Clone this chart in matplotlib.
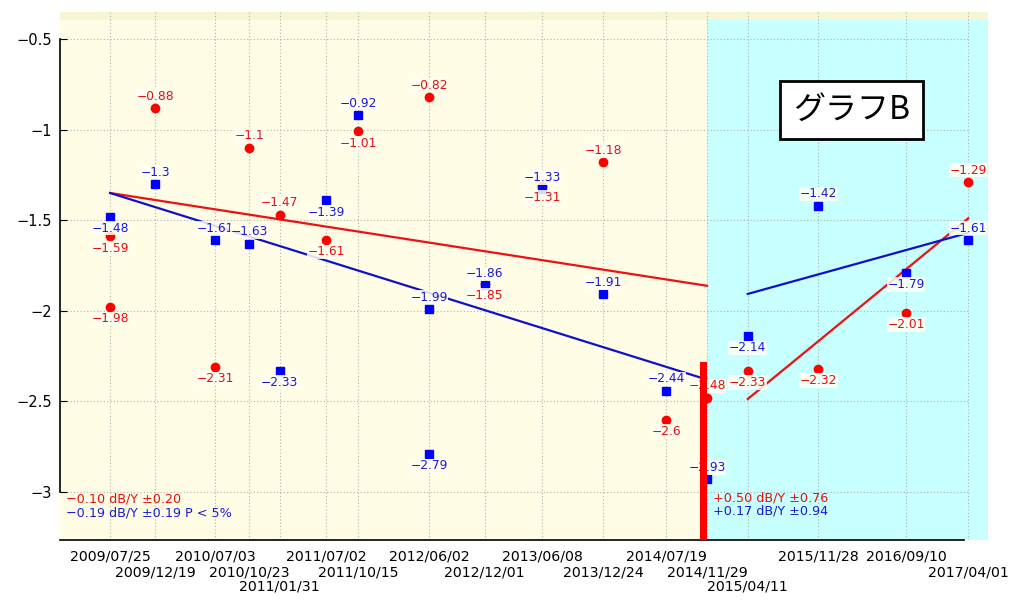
#!/usr/bin/env python3
"""Trend chart of two series (dB) with a change point, saved to out.png."""
from datetime import datetime, timedelta
import matplotlib
matplotlib.use("Agg")
import matplotlib.pyplot as plt
import matplotlib.dates as mdates

# --- data -------------------------------------------------------------
tick_dates = ["2009/07/25", "2009/12/19", "2010/07/03", "2010/10/23", "2011/01/31",
              "2011/07/02", "2011/10/15", "2012/06/02", "2012/12/01", "2013/06/08",
              "2013/12/24", "2014/07/19", "2014/11/29", "2015/04/11", "2015/11/28",
              "2016/09/10", "2017/04/01"]
tick_rows = [0, 1, 0, 1, 2, 0, 1, 0, 1, 0, 1, 0, 1, 2, 0, 0, 1]

red_dates = ["2009/07/25", "2009/07/25", "2009/12/19", "2010/07/03", "2010/10/23",
             "2011/01/31", "2011/07/02", "2011/10/15", "2012/06/02", "2012/12/01",
             "2013/06/08", "2013/12/24", "2014/07/19", "2014/11/29", "2015/04/11",
             "2015/11/28", "2016/09/10", "2017/04/01"]
red_values = [-1.59, -1.98, -0.88, -2.31, -1.10, -1.47, -1.61, -1.01, -0.82, -1.85,
              -1.31, -1.18, -2.60, -2.48, -2.33, -2.32, -2.01, -1.29]
red_label_side = [-1, -1, 1, -1, 1, 1, -1, -1, 1, -1, -1, 1, -1, 1, -1, -1, -1, 1]

blue_dates = ["2009/07/25", "2009/12/19", "2010/07/03", "2010/10/23", "2011/01/31",
              "2011/07/02", "2011/10/15", "2012/06/02", "2012/06/02", "2012/12/01",
              "2013/06/08", "2013/12/24", "2014/07/19", "2014/11/29", "2015/04/11",
              "2015/11/28", "2016/09/10", "2017/04/01"]
blue_values = [-1.48, -1.30, -1.61, -1.63, -2.33, -1.39, -0.92, -1.99, -2.79, -1.86,
               -1.33, -1.91, -2.44, -2.93, -2.14, -1.42, -1.79, -1.61]
blue_label_side = [-1, 1, 1, 1, -1, -1, 1, 1, -1, 1, 1, 1, 1, 1, -1, 1, -1, 1]

# trend lines: (start date, end date, start value, end value)
red_trend1 = ("2009/07/25", "2014/11/29", -1.35, -1.862)
blue_trend1 = ("2009/07/25", "2014/11/29", -1.35, -2.38)
red_trend2 = ("2015/04/11", "2017/04/01", -2.487, -1.49)
blue_trend2 = ("2015/04/11", "2017/04/01", -1.907, -1.57)

change_date = "2014/11/29"
change_bar_top = -2.28

stats_before = ["\u22120.10 dB/Y \u00b10.20", "\u22120.19 dB/Y \u00b10.19 P < 5%"]
stats_after = ["+0.50 dB/Y \u00b10.76", "+0.17 dB/Y \u00b10.94"]
title_box = "グラフB"

RED = "#ff0000"
BLUE = "#0000ff"
RED_TXT = "#e41010"
BLUE_TXT = "#1a1ad8"


def d(s):
    return datetime.strptime(s, "%Y/%m/%d")


def fmt(v):
    return f"{v:g}".replace("-", "\u2212")


def main():
    plt.rcParams['font.family'] = ['DejaVu Sans']
    fig = plt.figure(figsize=(10.3, 6), dpi=100)
    ax = fig.add_axes([60 / 1030, 60 / 600, 928 / 1030, 528 / 600])

    x0, x1 = d("2009/02/11"), d("2017/06/05")
    y0, y1 = -3.265, -0.351
    ax.set_xlim(x0, x1)
    ax.set_ylim(y0, y1)
    ax.set_facecolor("#fffde6")

    # backgrounds
    ax.axvspan(d(change_date), x1, color="#c8ffff", zorder=0, lw=0)
    ax.axhspan(-0.395, y1, color="#f6f6d4", zorder=0.5, lw=0)

    # grid
    for t in tick_dates:
        ax.axvline(d(t), color="#b0b0b0", ls=(0, (1, 2)), lw=0.8, zorder=1)
    for yv in [-0.5, -1, -1.5, -2, -2.5, -3]:
        ax.plot([x0, d(tick_dates[-1])], [yv, yv], color="#b0b0b0",
                ls=(0, (1, 2)), lw=0.8, zorder=1)

    # trend lines
    for tr, col in [(red_trend1, "#ee1111"), (blue_trend1, "#1010cc"),
                    (red_trend2, "#ee1111"), (blue_trend2, "#1010cc")]:
        ax.plot([d(tr[0]), d(tr[1])], [tr[2], tr[3]], color=col, lw=1.6, zorder=2)

    # points
    rx = [d(s) for s in red_dates]
    bx = [d(s) for s in blue_dates]
    ax.plot(rx, red_values, "o", color=RED, ms=6, zorder=3)
    ax.plot(bx, blue_values, "s", color=BLUE, ms=5.5, zorder=3)

    box = dict(boxstyle="square,pad=0.05", fc="#fffff4", ec="none", alpha=0.85)
    for xs, vs, sides, col in [(rx, red_values, red_label_side, RED_TXT),
                                (bx, blue_values, blue_label_side, BLUE_TXT)]:
        for xv, v, s in zip(xs, vs, sides):
            ax.annotate(fmt(v), (xv, v), xytext=(0, 8.5 * s), textcoords="offset points",
                        ha="center", va="center", fontsize=8.8, color=col,
                        bbox=box, zorder=4)

    # change point bar
    ax.bar(d(change_date), change_bar_top - y0, bottom=y0, width=-23, align="edge",
           color=RED, zorder=5)

    # stats texts
    ax.text(0.006, 0.078, stats_before[0], transform=ax.transAxes, color=RED_TXT,
            fontsize=9.2, va="center", zorder=6)
    ax.text(0.006, 0.052, stats_before[1], transform=ax.transAxes, color=BLUE_TXT,
            fontsize=9.2, va="center", zorder=6)
    ax.text(0.704, 0.080, stats_after[0], transform=ax.transAxes, color=RED_TXT,
            fontsize=9.2, va="center", zorder=6)
    ax.text(0.704, 0.054, stats_after[1], transform=ax.transAxes, color=BLUE_TXT,
            fontsize=9.2, va="center", zorder=6)

    ax.text(0.853, 0.814, title_box, transform=ax.transAxes, ha="center", va="center",
            fontsize=23, family=["Noto Sans CJK JP", "DejaVu Sans"], zorder=6,
            bbox=dict(boxstyle="square,pad=0.4", fc="white", ec="black", lw=2))

    # axes
    for side in ["top", "right"]:
        ax.spines[side].set_visible(False)
    ax.spines["left"].set_bounds(-3, -0.5)
    ax.spines["bottom"].set_bounds(mdates.date2num(x0),
                                   mdates.date2num(d(tick_dates[-1]) - timedelta(days=15)))
    ax.spines["left"].set_linewidth(1.2)
    ax.spines["bottom"].set_linewidth(1.2)

    ax.set_yticks([-0.5, -1, -1.5, -2, -2.5, -3])
    ax.set_yticklabels([fmt(v) for v in [-0.5, -1, -1.5, -2, -2.5, -3]])
    ax.tick_params(axis="y", direction="in", length=5, labelsize=10.5, pad=6)

    # staggered date labels in three rows
    ax.set_xticks([d(t) for t in tick_dates])
    ax.set_xticklabels([])
    ax.tick_params(axis="x", length=0)
    row_y = [-0.032, -0.061, -0.089]
    for t, r in zip(tick_dates, tick_rows):
        ax.text(d(t), row_y[r], t, transform=ax.get_xaxis_transform(),
                ha="center", va="center", fontsize=10.2, clip_on=False)

    fig.savefig("out.png", dpi=100)
    plt.close(fig)


if __name__ == "__main__":
    main()
